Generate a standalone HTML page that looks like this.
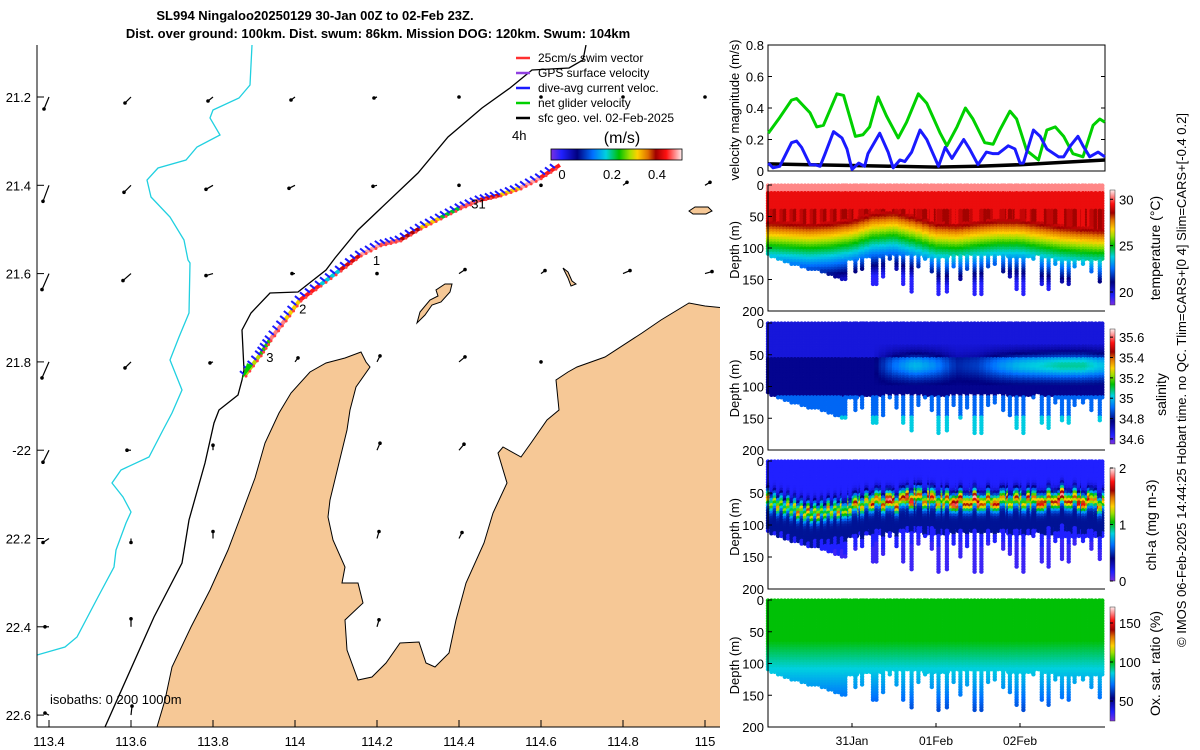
<!DOCTYPE html>
<html><head><meta charset="utf-8"><style>
html,body{margin:0;padding:0;background:#fff;width:1200px;height:750px;overflow:hidden}
svg{display:block;font-family:"Liberation Sans",sans-serif}
</style></head><body>
<svg id="s" width="1200" height="750" viewBox="0 0 1200 750" xmlns="http://www.w3.org/2000/svg">
<defs>
<linearGradient id="cg" x1="0" x2="1" y1="0" y2="0"></linearGradient>
<linearGradient id="cgv" x1="0" x2="0" y1="1" y2="0"></linearGradient>
<clipPath id="mapclip"><rect x="37" y="45" width="683" height="682"/></clipPath>
</defs>
<g font-weight="bold" font-size="13" text-anchor="middle">
<text x="315" y="20">SL994 Ningaloo20250129 30-Jan 00Z to 02-Feb 23Z.</text>
<text x="378" y="38">Dist. over ground: 100km. Dist. swum: 86km. Mission DOG: 120km. Swum: 104km</text>
</g>
<g id="map"></g>
<g id="vel"></g>
<g id="sec"></g>
<text transform="translate(1186,380) rotate(-90)" text-anchor="middle" font-size="13">© IMOS 06-Feb-2025 14:44:25 Hobart time. no QC. Tlim=CARS+[0 4] Slim=CARS+[-0.4 0.2]</text>
</svg>
<script>
// ---------------- DATA ----------------
const mapLonTicks=[113.4,113.6,113.8,114,114.2,114.4,114.6,114.8,115];
const mapLonTickLabels=["113.4","113.6","113.8","114","114.2","114.4","114.6","114.8","115"];
const mapLatTicks=[21.2,21.4,21.6,21.8,22,22.2,22.4,22.6];
const mapLatTickLabels=["21.2","21.4","21.6","21.8","-22","22.2","22.4","22.6"];
const trackLon=[113.878,113.915,113.939,113.976,114.012,114.061,114.110,114.159,114.207,114.256,114.305,114.354,114.402,114.451,114.500,114.549,114.598,114.646];
const trackLat=[21.830,21.784,21.750,21.705,21.660,21.626,21.592,21.558,21.535,21.524,21.497,21.474,21.451,21.433,21.422,21.406,21.383,21.354];
const trackSpeed=[0.28,0.24,0.45,0.3,0.42,0.18,0.4,0.46,0.44,0.38,0.3,0.22,0.44,0.4,0.3,0.46,0.42,0.46];
const dayLabels=["3","2","1","31"];
const dayLabelLon=[113.93,114.01,114.19,114.43];
const dayLabelLat=[21.800,21.690,21.580,21.453];
const gridLon=[113.4,113.6,113.8,114,114.2,114.4,114.6,114.8,115];
const gridLat=[21.2,21.4,21.6,21.8,22,22.2,22.4,22.6];
const gridU=[
[-0.05,-0.06,-0.05,-0.04,-0.03,0.0,0.0,0.0,0.0],
[-0.06,-0.07,-0.07,-0.06,-0.04,0.0,0.0,0.04,0.05],
[-0.07,-0.08,-0.07,-0.03,0.0,0.06,0.04,0.07,0.07],
[-0.07,-0.06,-0.03,0.03,0.03,0.06,0.0,0.0,0.0],
[-0.06,-0.04,0.0,0.0,0.03,0.05,0.0,0.0,0.0],
[-0.06,0.0,0.0,0.0,0.02,0.03,0.0,0.0,0.0],
[-0.04,0.0,0.0,0.0,0.02,0.0,0.0,0.0,0.0],
[-0.04,0.01,0.0,0.0,0.0,0.0,0.0,0.0,0.0]];
const gridV=[
[-0.12,-0.06,-0.04,-0.03,-0.01,0.0,0.0,0.0,0.0],
[-0.16,-0.07,-0.04,-0.03,-0.01,0.0,0.0,0.03,0.03],
[-0.16,-0.07,-0.02,0.0,0.0,0.04,0.03,0.03,0.02],
[-0.16,-0.06,-0.01,0.04,0.06,0.05,0.0,0.0,0.0],
[-0.12,0.0,0.05,0.0,0.07,0.06,0.0,0.0,0.0],
[-0.04,-0.04,0.07,0.0,0.07,0.06,0.0,0.0,0.0],
[0.0,0.08,0.0,0.0,0.07,0.0,0.0,0.0,0.0],
[0.02,0.09,0.0,0.0,0.0,0.0,0.0,0.0,0.0]];
// velocity panel (days since 30-Jan 00Z)
const greenT=[0.004,0.14,0.28,0.34,0.5,0.58,0.66,0.74,0.82,0.90,1.04,1.13,1.21,1.31,1.41,1.55,1.65,1.79,1.89,2.05,2.13,2.25,2.35,2.44,2.58,2.68,2.76,2.88,2.96,3.08,3.22,3.32,3.42,3.52,3.63,3.75,3.87,3.95,4.01];
const greenV=[0.24,0.34,0.45,0.46,0.37,0.28,0.29,0.39,0.49,0.48,0.22,0.23,0.28,0.47,0.35,0.21,0.31,0.49,0.43,0.24,0.16,0.28,0.40,0.33,0.18,0.17,0.26,0.38,0.33,0.13,0.07,0.26,0.28,0.22,0.11,0.09,0.29,0.33,0.31];
const blueT=[0.004,0.06,0.14,0.28,0.34,0.40,0.5,0.56,0.62,0.68,0.78,0.88,0.94,1.00,1.08,1.15,1.19,1.33,1.43,1.49,1.57,1.63,1.71,1.81,1.89,2.03,2.11,2.19,2.33,2.40,2.50,2.60,2.68,2.74,2.86,2.94,3.00,3.04,3.16,3.24,3.32,3.46,3.52,3.60,3.69,3.75,3.83,3.93,4.01];
const blueV=[0.05,0.02,0.03,0.18,0.19,0.15,0.04,0.04,0.03,0.11,0.25,0.21,0.14,0.01,0.05,0.03,0.11,0.24,0.12,0.02,0.07,0.06,0.12,0.26,0.20,0.03,0.15,0.08,0.20,0.14,0.04,0.12,0.11,0.11,0.16,0.14,0.05,0.05,0.26,0.22,0.14,0.09,0.09,0.16,0.22,0.16,0.09,0.12,0.09];
const blackT=[0,0.5,1,1.5,2,2.5,3,3.5,4.01];
const blackV=[0.045,0.04,0.035,0.03,0.025,0.03,0.04,0.055,0.07];
const velTicks=[0,0.2,0.4,0.6,0.8];
const velTickLabels=["0","0.2","0.4","0.6","0.8"];
const dayTicks=[1,2,3];
const dayTickLabels=["31Jan","01Feb","02Feb"];
const depthTicks=[0,50,100,150,200];
// profiles
const denseDepth=[112,114,116,118,120,122,124,126,128,128,130,132,133,134,135,136,138,140,142,144,146,148,150];
const deepT=[0.92,1.04,1.12,1.17,1.25,1.29,1.37,1.45,1.53,1.61,1.71,1.79,1.87,1.95,2.03,2.13,2.21,2.29,2.37,2.46,2.54,2.62,2.70,2.80,2.88,2.96,3.04,3.16,3.26,3.34,3.42,3.50,3.58,3.65,3.75,3.85,3.95];
const deepDepth=[150,140,135,115,160,160,145,120,135,160,170,130,120,140,175,170,130,150,135,175,175,130,125,140,145,165,175,120,160,165,125,155,160,130,125,140,155];
const fillDepthQ=[115,115,115,115,118,115,110,112,115,112,110,112,115,112,118,120,120];
const thermoQ=[98,100,102,100,95,85,82,90,100,102,98,95,95,100,105,108,110];
const salPatchQ=[0,0,0,0,0,0,0.5,0.8,0.6,0.2,0.3,0.6,0.8,0.9,1,1,0.8];
const dcmDepthQ=[60,70,80,75,70,60,65,55,60,60,60,60,60,60,55,60,65];
const dcmPeakQ=[0.8,0.8,0.9,0.8,0.9,1.0,1.2,1.1,1.0,1.2,1.2,1.0,0.9,1.1,1.2,1.1,1.0];
const tempTicks=[20,25,30], salTicks=[34.6,34.8,35,35.2,35.4,35.6], salTickLabels=["34.6","34.8","35","35.2","35.4","35.6"], chlTicks=[0,1,2], oxyTicks=[50,100,150];

// ---------------- HELPERS ----------------
const NS="http://www.w3.org/2000/svg";
function mk(tag,parent,attrs){const e=document.createElementNS(NS,tag);for(const k in attrs)e.setAttribute(k,attrs[k]);parent.appendChild(e);return e;}
const stops=[[0,[122,48,224]],[0.08,[32,32,255]],[0.2,[0,0,128]],[0.32,[0,112,255]],[0.42,[0,208,224]],[0.52,[0,192,0]],[0.6,[160,224,0]],[0.66,[255,208,0]],[0.74,[224,112,0]],[0.8,[160,0,0]],[0.88,[255,16,16]],[1,[255,240,240]]];
function cmap(t){t=Math.max(0,Math.min(1,t));for(let i=1;i<stops.length;i++){if(t<=stops[i][0]){const a=stops[i-1],b=stops[i];const f=(t-a[0])/(b[0]-a[0]);const c=a[1].map((v,j)=>Math.round(v+(b[1][j]-v)*f));return "rgb("+c.join(",")+")";}}return "rgb(255,240,240)";}
function q(arr,t){const p=Math.max(0,Math.min(arr.length-1.001,t*4));const i=Math.floor(p),f=p-i;return arr[i]*(1-f)+arr[i+1]*f;}
["cg","cgv"].forEach(id=>{const g=document.getElementById(id);stops.forEach(s=>mk("stop",g,{offset:s[0],"stop-color":cmap(s[0])}));});

// ---------------- MAP ----------------
const map=document.getElementById("map");
const lonX=lon=>49+(lon-113.4)*410;
const latY=lat=>97+(lat-21.2)*441.5;
const mc=mk("g",map,{"clip-path":"url(#mapclip)"});


const land=mk("path",mc,{d:"M157,727 L165,700 L172,667 L191,627 L210,590 L228,550 L242,513 L255,478 L265,443 L279,413 L291,393 L310,372 L326,363 L345,358 L361,352 L366,362 L370,367 L356,387 L350,410 L347,430 L338,467 L330,500 L328,517 L333,540 L345,567 L342,583 L358,583 L363,603 L345,620 L347,650 L358,680 L372,677 L386,663 L400,643 L419,642 L426,663 L435,667 L449,653 L456,620 L466,583 L484,543 L493,513 L507,483 L498,453 L503,447 L521,457 L531,443 L547,420 L559,410 L556,380 L568,372 L577,367 L605,357 L642,333 L661,320 L689,303 L705,306 L725,308 L725,735 Z",fill:"#f6c896",stroke:"#000","stroke-width":"1"});


const isl1=mk("path",mc,{d:"M417,323 L420,312 L430,300 L438,296 L436,290 L445,284 L452,284 L450,292 L441,302 L432,305 L425,315 Z",fill:"#f6c896",stroke:"#000","stroke-width":"1"});


const isl2=mk("path",mc,{d:"M563,268 L568,272 L572,281 L576,284 L571,286 L568,278 Z",fill:"#f6c896",stroke:"#000","stroke-width":"1"});


const isl3=mk("path",mc,{d:"M689,211 L695,207 L708,207 L712,211 L706,214 L693,214 Z",fill:"#f6c896",stroke:"#000","stroke-width":"1"});


const iso1000=mk("polyline",mc,{points:"252,45 250,85 239,98 213,110 210,118 220,135 197,147 186,160 158,168 147,180 151,197 170,217 184,240 188,260 190,263 189,313 179,337 170,360 182,390 172,413 163,430 149,457 121,470 112,483 123,497 131,512 126,523 116,550 114,567 98,597 77,637 65,647 37,655",fill:"none",stroke:"#20d0e0","stroke-width":"1.3"});


const iso200=mk("polyline",mc,{points:"586,45 583,60 569,68 532,70 510,88 482,108 448,137 418,173 358,230 335,258 326,270 298,292 270,293 251,313 242,330 244,370 242,380 238,395 219,410 214,423 205,463 189,520 182,563 154,617 105,727",fill:"none",stroke:"#000","stroke-width":"1.3"});


for(let r=0;r<gridLat.length;r++)for(let c=0;c<gridLon.length;c++){
  const x=lonX(gridLon[c]),y=latY(gridLat[r]);
  if(land.isPointInFill&&land.isPointInFill(new DOMPoint(x,y)))continue;
  const u=gridU[r][c],v=gridV[r][c];const sc=100;
  const x2=x+u*sc,y2=y-v*sc;
  const a=mk("g",mc,{});
  
  
  mk("line",a,{x1:x,y1:y,x2:x2,y2:y2,stroke:"#000","stroke-width":"1.2"});
  mk("circle",a,{cx:x2,cy:y2,r:"1.8",fill:"#000"});
}
for(let i=0;i<trackLon.length-1;i++){
  const seg=mk("line",mc,{x1:lonX(trackLon[i]),y1:latY(trackLat[i]),x2:lonX(trackLon[i+1]),y2:latY(trackLat[i+1]),stroke:cmap((trackSpeed[i]+0.04)/0.52),"stroke-width":"4"});
  
  
  for(let k=0;k<4;k++){
    const f=k/4;const x=lonX(trackLon[i]*(1-f)+trackLon[i+1]*f),y=latY(trackLat[i]*(1-f)+trackLat[i+1]*f);
    const bv=mk("line",mc,{x1:x,y1:y,x2:x-5,y2:y-4,stroke:"#1a1aff","stroke-width":"2"});
    
    
    const rv=mk("circle",mc,{cx:x+1,cy:y+1,r:"1.5",fill:"#ff4040"});
    
    
  }
}
const start=mk("polygon",mc,{points:`${lonX(trackLon[0])-3},${latY(trackLat[0])+4} ${lonX(trackLon[0])+8},${latY(trackLat[0])-10} ${lonX(trackLon[0])+2},${latY(trackLat[0])-12}`,fill:"#00d000"});


dayLabels.forEach((d,i)=>{const t=mk("text",mc,{x:lonX(dayLabelLon[i]),y:latY(dayLabelLat[i]),"font-size":"13"});t.textContent=d;

});
const iso=mk("text",map,{x:"50",y:"704","font-size":"13"});iso.textContent="isobaths: 0  200  1000m";iso.setAttribute("xml:space","preserve");


const ax=mk("path",map,{d:"M37,45 L37,727 L720,727",fill:"none",stroke:"#000","stroke-width":"1"});


mapLonTicks.forEach((v,i)=>{const x=lonX(v);mk("line",map,{x1:x,x2:x,y1:727,y2:720,stroke:"#000"});const t=mk("text",map,{x:x,y:"746","font-size":"13","text-anchor":"middle"});t.textContent=mapLonTickLabels[i];

});
mapLatTicks.forEach((v,i)=>{const y=latY(v);mk("line",map,{x1:37,x2:44,y1:y,y2:y,stroke:"#000"});const t=mk("text",map,{x:"31",y:y+5,"font-size":"13","text-anchor":"end"});t.textContent=mapLatTickLabels[i];

});
const lg=mk("g",map,{"font-size":"12"});


const legT=["25cm/s swim vector","GPS surface velocity","dive-avg current veloc.","net glider velocity","sfc geo. vel. 02-Feb-2025"];
const legC=["#ff3030","#9040e0","#1a1aff","#00d000","#000"];
legT.forEach((s,i)=>{const y=62+i*15;mk("line",lg,{x1:516,x2:530,y1:y-4,y2:y-4,stroke:legC[i],"stroke-width":"2.5"});const t=mk("text",lg,{x:"538",y:y});t.textContent=s;

});
const h4=mk("text",map,{x:"512",y:"140","font-size":"13"});h4.textContent="4h";


const ms=mk("text",map,{x:"622",y:"143","font-size":"16","text-anchor":"middle"});ms.textContent="(m/s)";


const cb=mk("rect",map,{x:"551",y:"149",width:"131",height:"11",fill:"url(#cg)",stroke:"#000","stroke-width":"0.8"});


[["0",562],["0.2",612],["0.4",657]].forEach(p=>{const t=mk("text",map,{x:p[1],y:"179","font-size":"13","text-anchor":"middle"});t.textContent=p[0];

});

// ---------------- VELOCITY PANEL ----------------
const vel=document.getElementById("vel");
const X0=768,X1=1105;
const tX=t=>X0+t*84;
const vY=v=>171-v/0.8*126;
const vbox=mk("rect",vel,{x:X0,y:45,width:X1-X0,height:126,fill:"none",stroke:"#000"});


velTicks.forEach((v,i)=>{const y=vY(v);mk("line",vel,{x1:X0,x2:X0+4,y1:y,y2:y,stroke:"#000"});mk("line",vel,{x1:X1,x2:X1-4,y1:y,y2:y,stroke:"#000"});const t=mk("text",vel,{x:"764",y:y+5,"font-size":"13","text-anchor":"end"});t.textContent=velTickLabels[i];

});
const vt=mk("text",vel,{transform:"translate(739,110) rotate(-90)","font-size":"13","text-anchor":"middle"});vt.textContent="velocity magnitude (m/s)";


function line(T,V,col,name,w){const p=T.map((t,i)=>tX(Math.min(t,4.01))+","+vY(V[i])).join(" ");const l=mk("polyline",vel,{points:p,fill:"none",stroke:col,"stroke-width":w,"stroke-linejoin":"round"});}
line(greenT,greenV,"#00d000","net-glider-velocity-line","3");
line(blackT,blackV,"#000","sfc-geo-velocity-line","3.5");
line(blueT,blueV,"#1a1aff","dive-avg-current-line","3");

// ---------------- SECTIONS ----------------
const sec=document.getElementById("sec");
const panels=[
 {top:185,bot:311,lo:18.6,hi:31,ticks:tempTicks,labels:tempTicks.map(String),cb:[190,305],title:"temperature (°C)",tx:1160,name:"temperature"},
 {top:323,bot:450,lo:34.55,hi:35.68,ticks:salTicks,labels:salTickLabels,cb:[329,444],title:"salinity",tx:1166,name:"salinity"},
 {top:461,bot:589,lo:0,hi:2,ticks:chlTicks,labels:chlTicks.map(String),cb:[468,581],title:"chl-a (mg m-3)",tx:1156,name:"chlorophyll"},
 {top:600,bot:727,lo:24.4,hi:170.5,ticks:oxyTicks,labels:oxyTicks.map(String),cb:[607,721],title:"Ox. sat. ratio (%)",tx:1160,name:"oxygen"}];
function temp(t,z,k){const th=q(thermoQ,t);if(z<12)return 30.3;if(z<th-40)return 29.3-(z>40?0.8*((k%3)/2):0);if(z<th)return 29.0-(z-th+40)/40*4.0;return Math.max(19.5,25-(z-th)*0.09);}
function sal(t,z){const p=q(salPatchQ,t);let s=z<55?34.68:(z<115?34.76:34.9);if(z>145)s=35.02;if(z>35&&z<100)s+=p*0.3*Math.exp(-Math.pow((z-68)/20,2));return s;}
function chl(t,z,k){const d=q(dcmDepthQ,t)+((k%2)?6:-4),pk=q(dcmPeakQ,t)*((k%3)?1:1.25);let c=0.16+pk*Math.exp(-Math.pow((z-d)/12,2));if(z>d&&z<d+50)c+=0.28;if(z>d+70)c-=0.05;return c;}
function oxy(t,z){if(z<65)return 100;return Math.max(52,100-(z-65)*0.32);}
const fns=[temp,sal,chl,oxy];
const profT=[],profD=[];
denseDepth.forEach((d,i)=>{profT.push(i*0.04);profD.push(d);});
for(let t=0.9;t<4.0;t+=0.04){profT.push(t);profD.push(q(fillDepthQ,t));}
deepT.forEach((t,i)=>{profT.push(t);profD.push(deepDepth[i]);});
panels.forEach((P,pi)=>{
  const g=mk("g",sec,{});
  
  
  const zY=z=>P.top+z/200*(P.bot-P.top);
  const dots=mk("g",g,{});
  
  
  profT.forEach((t,k)=>{for(let z=1;z<=profD[k];z+=4){const v=fns[pi](t,z,k);mk("circle",dots,{cx:tX(t).toFixed(1),cy:zY(z).toFixed(1),r:"2.2",fill:cmap((v-P.lo)/(P.hi-P.lo))});}});
  const ab=mk("path",g,{d:`M${X0},${P.top} L${X0},${P.bot} L${X1},${P.bot}`,fill:"none",stroke:"#000"});
  
  
  depthTicks.forEach(d=>{const y=zY(d);mk("line",g,{x1:X0,x2:X0+4,y1:y,y2:y,stroke:"#000"});const t=mk("text",g,{x:"764",y:y+5,"font-size":"13","text-anchor":"end"});t.textContent=String(d);
  
  });
  const dl=mk("text",g,{transform:`translate(739,${(P.top+P.bot)/2+2}) rotate(-90)`,"font-size":"13","text-anchor":"middle"});dl.textContent="Depth (m)";
  
  
  const cr=mk("rect",g,{x:"1110",y:P.cb[0],width:"5",height:P.cb[1]-P.cb[0],fill:"url(#cgv)",stroke:"#333","stroke-width":"0.5"});
  
  
  P.ticks.forEach((v,i)=>{const y=P.cb[1]-(v-P.lo)/(P.hi-P.lo)*(P.cb[1]-P.cb[0]);mk("line",g,{x1:1110,x2:1113,y1:y,y2:y,stroke:"#000"});const t=mk("text",g,{x:"1119",y:y+5,"font-size":"13"});t.textContent=P.labels[i];
  
  });
  const ct=mk("text",g,{transform:`translate(${P.tx},${(P.top+P.bot)/2+(pi==1?8:0)}) rotate(-90)`,"font-size":"14","text-anchor":"middle"});ct.textContent=P.title;
  
  
  if(pi==3){dayTicks.forEach((d,i)=>{const x=tX(d);mk("line",g,{x1:x,x2:x,y1:P.bot,y2:P.bot-4,stroke:"#000"});const t=mk("text",g,{x:x,y:"745","font-size":"12","text-anchor":"middle"});t.textContent=dayTickLabels[i];
  
  });}
});
</script>
</body></html>
